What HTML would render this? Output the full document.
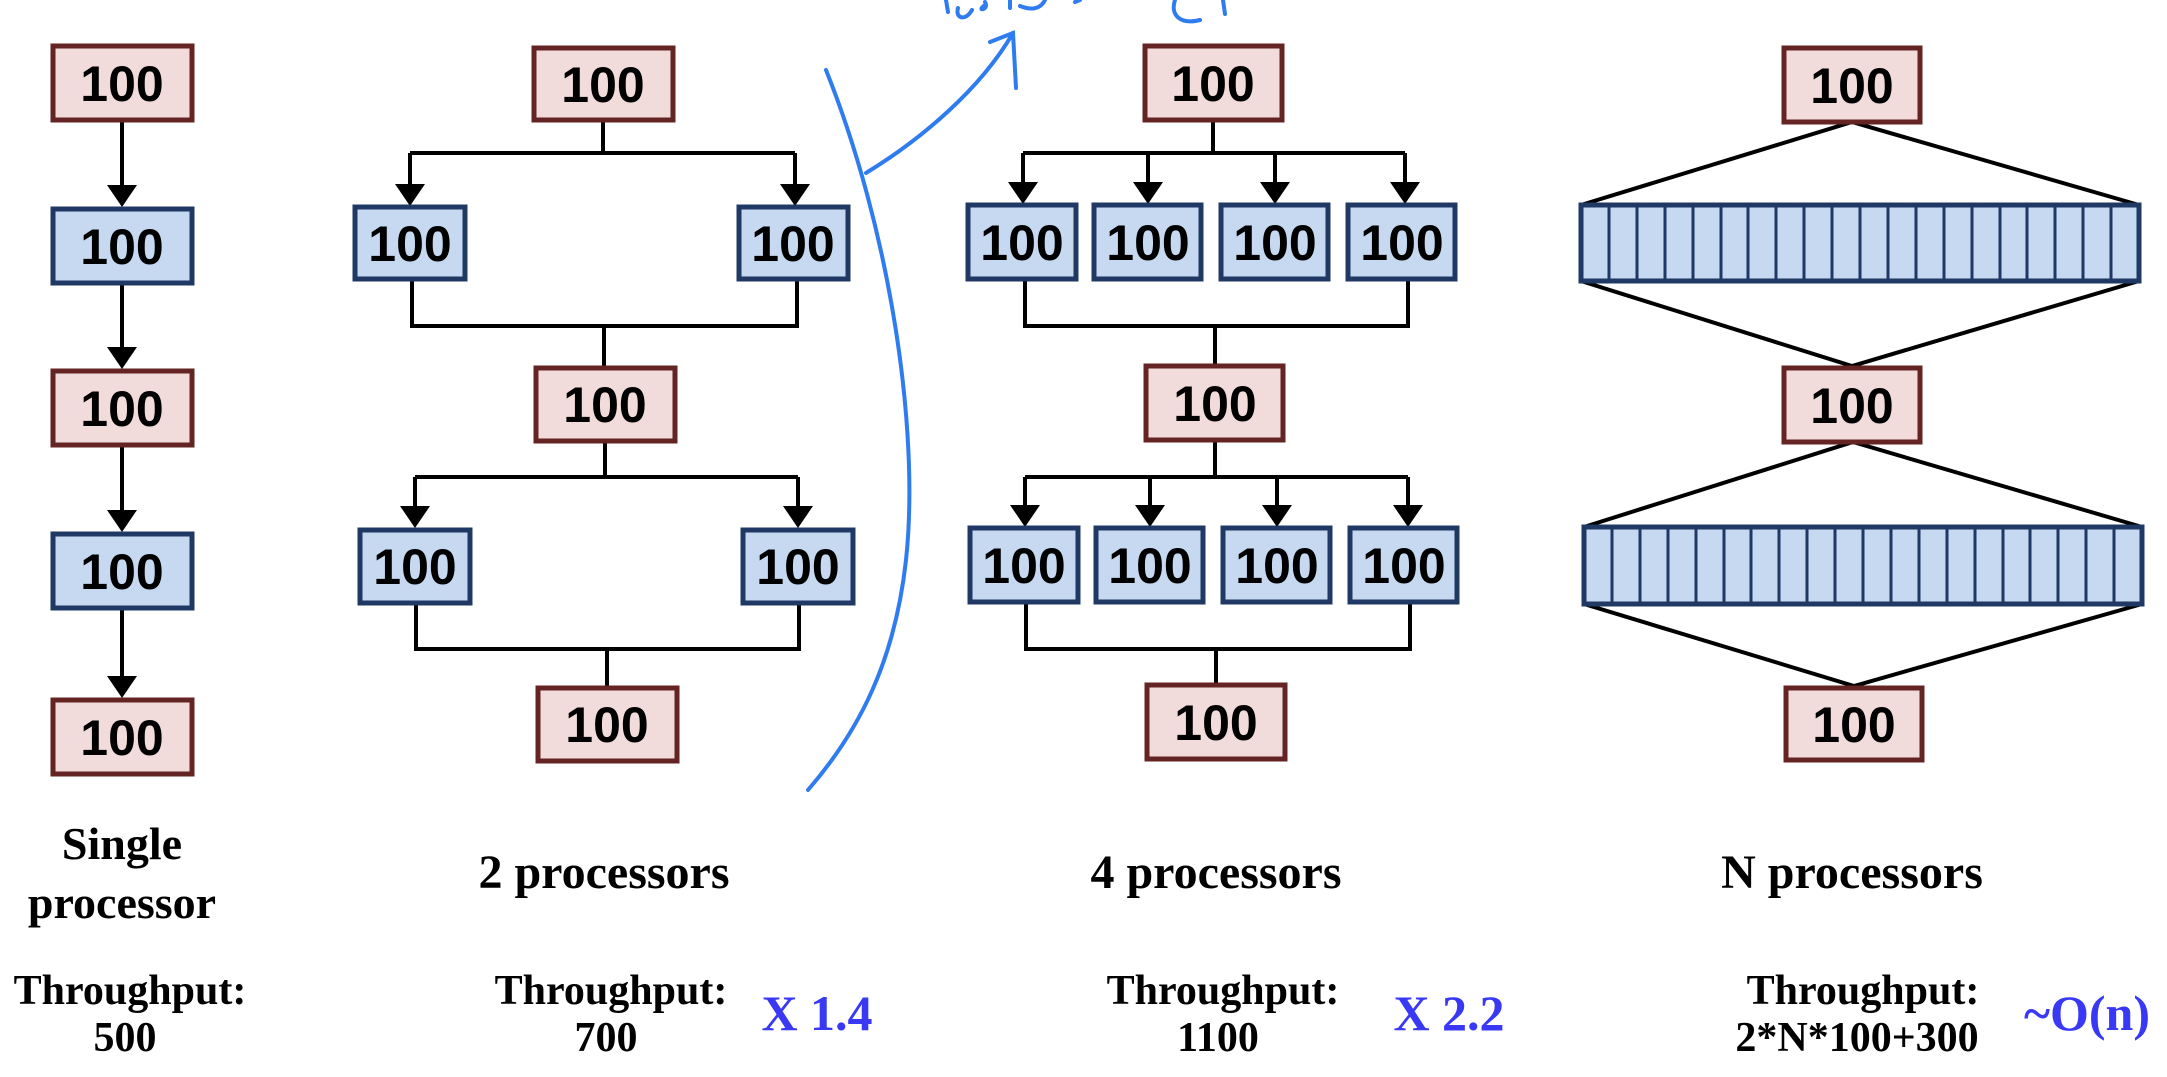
<!DOCTYPE html>
<html><head><meta charset="utf-8"><style>
html,body{margin:0;padding:0;background:#fff}
svg{display:block}
.r{fill:#f2dcdb;stroke:#632423;stroke-width:5}
.b{fill:#c6d9f0;stroke:#1f3864;stroke-width:5}
.t{font-family:"Liberation Sans",sans-serif;font-weight:bold;font-size:50px;text-anchor:middle;fill:#000}
.l{stroke:#000;stroke-width:4;fill:none}
.s{font-family:"Liberation Serif",serif;font-weight:bold;text-anchor:middle;fill:#000}
.h{stroke:#2f7bf0;stroke-width:4;fill:none;stroke-linecap:round}
</style></head><body>
<svg width="2167" height="1077" viewBox="0 0 2167 1077" xmlns="http://www.w3.org/2000/svg">
<defs><path id="ah" d="M-15,-22 L15,-22 L0,0 Z" fill="#000"/></defs>

<g>
<line class="l" x1="122" y1="120" x2="122" y2="190"/><use href="#ah" x="122" y="207"/>
<line class="l" x1="122" y1="283" x2="122" y2="352"/><use href="#ah" x="122" y="369"/>
<line class="l" x1="122" y1="445" x2="122" y2="515"/><use href="#ah" x="122" y="532"/>
<line class="l" x1="122" y1="608" x2="122" y2="681"/><use href="#ah" x="122" y="698"/>
<rect class="r" x="53" y="46" width="139" height="74"/><text class="t" x="122" y="101">100</text>
<rect class="b" x="53" y="209" width="139" height="74"/><text class="t" x="122" y="264">100</text>
<rect class="r" x="53" y="371" width="139" height="74"/><text class="t" x="122" y="426">100</text>
<rect class="b" x="53" y="534" width="139" height="74"/><text class="t" x="122" y="589">100</text>
<rect class="r" x="53" y="700" width="139" height="74"/><text class="t" x="122" y="755">100</text>
</g>

<g>
<path class="l" d="M603,120 V153 M410,153 H795 M410,153 V188 M795,153 V188"/>
<use href="#ah" x="410" y="206"/><use href="#ah" x="795" y="206"/>
<path class="l" d="M412,279 V326 H797 V279 M604,326 V366"/>
<path class="l" d="M605,441 V477 M415,477 H798 M415,477 V510 M798,477 V510"/>
<use href="#ah" x="415" y="528"/><use href="#ah" x="798" y="528"/>
<path class="l" d="M416,604 V649 H799 V604 M607,649 V687"/>
<rect class="r" x="534" y="48" width="139" height="72"/><text class="t" x="603" y="102">100</text>
<rect class="b" x="355" y="207" width="110" height="72"/><text class="t" x="410" y="261">100</text>
<rect class="b" x="739" y="207" width="109" height="72"/><text class="t" x="793" y="261">100</text>
<rect class="r" x="536" y="368" width="139" height="73"/><text class="t" x="605" y="422">100</text>
<rect class="b" x="360" y="530" width="110" height="73"/><text class="t" x="415" y="584">100</text>
<rect class="b" x="743" y="530" width="110" height="73"/><text class="t" x="798" y="584">100</text>
<rect class="r" x="538" y="688" width="139" height="73"/><text class="t" x="607" y="742">100</text>
</g>

<g>
<path class="l" d="M1213,120 V153 M1023,153 H1405 M1023,153 V186 M1148,153 V186 M1275,153 V186 M1405,153 V186"/>
<use href="#ah" x="1023" y="204"/><use href="#ah" x="1148" y="204"/><use href="#ah" x="1275" y="204"/><use href="#ah" x="1405" y="204"/>
<path class="l" d="M1025,279 V326 H1408 V279 M1215,326 V364"/>
<path class="l" d="M1215,440 V477 M1025,477 H1408 M1025,477 V509 M1150,477 V509 M1277,477 V509 M1408,477 V509"/>
<use href="#ah" x="1025" y="527"/><use href="#ah" x="1150" y="527"/><use href="#ah" x="1277" y="527"/><use href="#ah" x="1408" y="527"/>
<path class="l" d="M1026,603 V649 H1410 V603 M1216,649 V684"/>
<rect class="r" x="1145" y="46" width="137" height="74"/><text class="t" x="1213" y="101">100</text>
<rect class="b" x="968" y="205" width="108" height="74"/><text class="t" x="1022" y="260">100</text>
<rect class="b" x="1094" y="205" width="107" height="74"/><text class="t" x="1148" y="260">100</text>
<rect class="b" x="1221" y="205" width="107" height="74"/><text class="t" x="1275" y="260">100</text>
<rect class="b" x="1348" y="205" width="107" height="74"/><text class="t" x="1402" y="260">100</text>
<rect class="r" x="1146" y="366" width="137" height="74"/><text class="t" x="1215" y="421">100</text>
<rect class="b" x="970" y="528" width="108" height="74"/><text class="t" x="1024" y="583">100</text>
<rect class="b" x="1096" y="528" width="107" height="74"/><text class="t" x="1150" y="583">100</text>
<rect class="b" x="1223" y="528" width="107" height="74"/><text class="t" x="1277" y="583">100</text>
<rect class="b" x="1350" y="528" width="107" height="74"/><text class="t" x="1404" y="583">100</text>
<rect class="r" x="1147" y="685" width="138" height="74"/><text class="t" x="1216" y="740">100</text>
</g>

<g>
<path class="l" d="M1581,205 L1852,122 L2139,205 M1581,281 L1852,366 L2139,281 M1584,527 L1853,442 L2142,527 M1584,604 L1854,686 L2142,604" stroke-width="3.5"/>
<rect class="b" x="1581" y="205" width="558" height="76" stroke-width="4"/>
<path stroke="#1f3864" stroke-width="3" d="M1609,205V281M1637,205V281M1665,205V281M1693,205V281M1721,205V281M1748,205V281M1776,205V281M1804,205V281M1832,205V281M1860,205V281M1888,205V281M1916,205V281M1944,205V281M1972,205V281M2000,205V281M2027,205V281M2055,205V281M2083,205V281M2111,205V281"/>
<rect class="b" x="1584" y="527" width="558" height="77" stroke-width="4"/>
<path stroke="#1f3864" stroke-width="3" d="M1612,527V604M1640,527V604M1668,527V604M1696,527V604M1724,527V604M1751,527V604M1779,527V604M1807,527V604M1835,527V604M1863,527V604M1891,527V604M1919,527V604M1947,527V604M1975,527V604M2003,527V604M2030,527V604M2058,527V604M2086,527V604M2114,527V604"/>
<rect class="r" x="1784" y="48" width="136" height="74"/><text class="t" x="1852" y="103">100</text>
<rect class="r" x="1784" y="368" width="136" height="74"/><text class="t" x="1852" y="423">100</text>
<rect class="r" x="1786" y="688" width="136" height="72"/><text class="t" x="1854" y="742">100</text>
</g>

<path class="h" d="M826,70 C890,230 920,430 906,560 C895,660 860,730 808,790"/>
<path class="h" d="M866,173 C920,140 980,90 1013,33" stroke-width="2.5"/>
<path class="h" d="M990,42 L1013,33 L1016,88"/>
<path class="h" d="M946,0 L948,12 M958,8 C955,18 965,22 972,10 M985,2 C990,10 975,12 985,5 M1010,0 L1010,8 M1020,6 C1030,10 1040,10 1045,0"/>
<path class="h" d="M1075,2 L1080,0"/>
<path class="h" d="M1175,0 C1170,15 1180,25 1200,20 M1223,0 L1225,14"/>

<text class="s" x="122" y="859" font-size="46">Single</text>
<text class="s" x="122" y="918" font-size="46">processor</text>
<text class="s" x="604" y="888" font-size="48">2  processors</text>
<text class="s" x="1216" y="888" font-size="48">4  processors</text>
<text class="s" x="1852" y="888" font-size="48">N  processors</text>
<text class="s" x="130" y="1004" font-size="42">Throughput:</text>
<text class="s" x="125" y="1051" font-size="42">500</text>
<text class="s" x="611" y="1004" font-size="42">Throughput:</text>
<text class="s" x="606" y="1051" font-size="42">700</text>
<text class="s" x="1223" y="1004" font-size="42">Throughput:</text>
<text class="s" x="1218" y="1051" font-size="42">1100</text>
<text class="s" x="1863" y="1004" font-size="42">Throughput:</text>
<text class="s" x="1857" y="1051" font-size="42">2*N*100+300</text>
<text class="s" x="817" y="1030" font-size="50" style="fill:#3838f5">X 1.4</text>
<text class="s" x="1449" y="1030" font-size="50" style="fill:#3838f5">X 2.2</text>
<text class="s" x="2087" y="1030" font-size="50" style="fill:#3838f5">~O(n)</text>
</svg>
</body></html>
